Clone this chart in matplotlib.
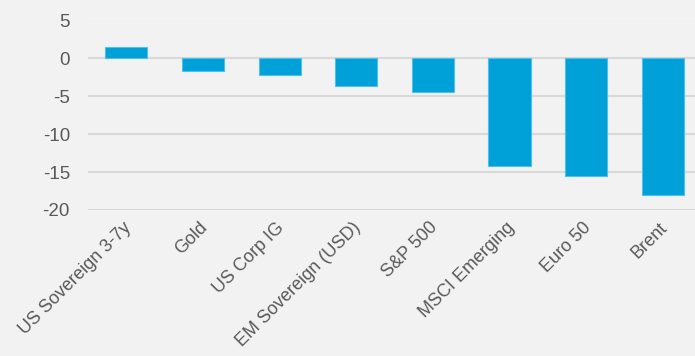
import matplotlib
matplotlib.use("Agg")
import matplotlib.pyplot as plt
import matplotlib.transforms as mtransforms

categories = ["US Sovereign 3-7y", "Gold", "US Corp IG", "EM Sovereign (USD)",
              "S&P 500", "MSCI Emerging", "Euro 50", "Brent"]
values = [1.5, -1.7, -2.2, -3.7, -4.4, -14.2, -15.5, -18.0]
yticks = [5, 0, -5, -10, -15, -20]

plt.rcParams['font.family'] = ['Liberation Sans', 'DejaVu Sans']
bg = '#f2f2f2'
fig = plt.figure(figsize=(6.95, 3.56), dpi=100, facecolor=bg)
ax = fig.add_axes([88/695, 1 - 210/356, 1 - 88/695, (210 - 20.5)/356], facecolor=bg)

x = list(range(len(categories)))
ax.bar(x, values, width=0.55, color='#00a0d8', edgecolor='#4fc0ea', linewidth=0.8, zorder=3)

ax.set_ylim(-20, 5)
ax.set_xlim(-0.5, 7.42)
ax.set_yticks(yticks)
ax.set_yticklabels([str(v) for v in yticks])
ax.yaxis.grid(True, color='#d9d9d9', linewidth=1.5, zorder=0)
ax.set_axisbelow(True)
for s in ax.spines.values():
    s.set_visible(False)
ax.tick_params(axis='y', length=0, pad=13, labelsize=13.5, labelcolor='#595959')
ax.tick_params(axis='x', length=0, pad=5, labelsize=13, labelcolor='#595959')
ax.set_xticks(x)
ax.set_xticklabels(categories, rotation=45, ha='right', rotation_mode='anchor')
offset = mtransforms.ScaledTranslation(-4/100, -2/100, fig.dpi_scale_trans)
for lbl in ax.get_xticklabels():
    lbl.set_transform(lbl.get_transform() + offset)

fig.savefig('out.png', dpi=100, facecolor=bg)
